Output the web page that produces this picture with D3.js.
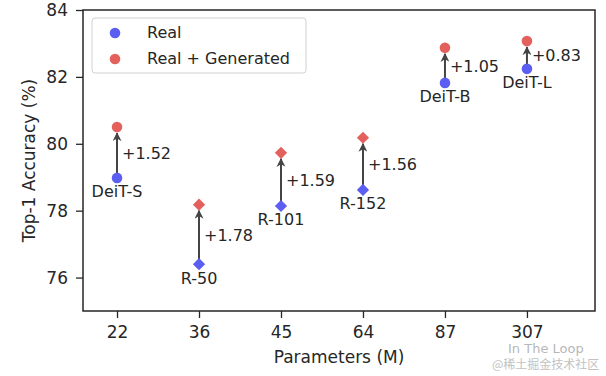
<!DOCTYPE html>
<html>
<head>
<meta charset="utf-8">
<script src="https://cdn.jsdelivr.net/npm/d3@7"></script>
<style>
  body { margin: 0; background: #fff; }
  text { font-family: "DejaVu Sans", sans-serif; fill: #262626; }
</style>
</head>
<body>
<div id="plot"></div>
<script>
// chart data
var models = ["DeiT-S", "R-50", "R-101", "R-152", "DeiT-B", "DeiT-L"];
var params = ["22", "36", "45", "64", "87", "307"];
var acc_real = [78.98, 76.40, 78.14, 78.62, 81.82, 82.24];
var acc_gen = [80.50, 78.18, 79.73, 80.18, 82.87, 83.07];
var gains = ["+1.52", "+1.78", "+1.59", "+1.56", "+1.05", "+0.83"];
var shapes = ["circle", "diamond", "diamond", "diamond", "circle", "circle"];
var y_ticks = [76, 78, 80, 82, 84];

const blue = "#5b5ef0";
const red = "#e4605c";
const dark = "#262626";

const total_width = 606, total_height = 376;
const margin = {left: 83, top: 10, right: 11, bottom: 65};
var width = total_width - margin.left - margin.right;
var height = total_height - margin.top - margin.bottom;

var svg = d3.select("#plot").append("svg").attr("width", total_width).attr("height", total_height)
  .append("g").attr("transform", "translate(" + margin.left + "," + margin.top + ")");

var x = d3.scaleLinear().domain([-0.415, 5.83]).range([0, width]);
var y = d3.scaleLinear().domain([75, 84]).range([height, 0]);

// axes
var xAxis = d3.axisBottom(x).tickValues(d3.range(params.length)).tickFormat(function(i) {return params[i]}).tickSize(7).tickPadding(8);
var gx = svg.append("g").attr("transform", "translate(0," + height + ")").call(xAxis);
var yAxis = d3.axisLeft(y).tickValues(y_ticks).tickSize(7).tickPadding(8);
var gy = svg.append("g").call(yAxis);
[gx, gy].forEach(function(g) {
  g.select(".domain").remove();
  g.selectAll(".tick line").attr("stroke", dark).attr("stroke-width", 1.3);
  g.selectAll(".tick text").style("font-size", "17px").attr("fill", dark);
});

svg.append("rect").attr("width", width).attr("height", height)
  .attr("fill", "none").attr("stroke", dark).attr("stroke-width", 1.5);

svg.append("text").attr("text-anchor", "middle").attr("x", 256).attr("y", height + 52)
  .style("font-size", "17px").text("Parameters (M)");
svg.append("text").attr("text-anchor", "middle")
  .attr("transform", "translate(" + (-48) + "," + (height / 2) + ") rotate(-90)")
  .style("font-size", "17px").text("Top-1 Accuracy (%)");

// arrow marker
svg.append("defs").append("marker").attr("id", "arrow")
  .attr("viewBox", "0 0 10 10").attr("refX", 9).attr("refY", 5)
  .attr("markerWidth", 4.5).attr("markerHeight", 4.5).attr("orient", "auto")
  .append("path").attr("d", "M0,0 L10,5 L0,10 L3,5 Z").attr("fill", "#444");

var idx = d3.range(models.length);

svg.selectAll(".gain-line").data(idx).enter().append("line")
  .attr("x1", function(i) {return x(i)}).attr("x2", function(i) {return x(i)})
  .attr("y1", function(i) {return y(acc_real[i])})
  .attr("y2", function(i) {return y(acc_gen[i]) + 6})
  .attr("stroke", "#444").attr("stroke-width", 2)
  .attr("marker-end", "url(#arrow)");

function drawMarker(g, i, val, color) {
  if (shapes[i] == "circle") {
    g.append("circle").attr("cx", x(i)).attr("cy", y(val)).attr("r", 5.3).attr("fill", color);
  } else {
    g.append("path").attr("d", d3.symbol().type(d3.symbolDiamond2).size(95)())
      .attr("transform", "translate(" + x(i) + "," + y(val) + ")")
      .attr("fill", color);
  }
}

var marks = svg.append("g");
idx.forEach(function(i) {
  drawMarker(marks, i, acc_real[i], blue);
  drawMarker(marks, i, acc_gen[i], red);
});

svg.selectAll(".gain").data(idx).enter().append("text")
  .attr("x", function(i) {return x(i) + 5})
  .attr("y", function(i) {return (y(acc_real[i]) + y(acc_gen[i])) / 2 + 2})
  .attr("dominant-baseline", "middle").style("font-size", "16px")
  .text(function(i) {return gains[i]});

svg.selectAll(".model").data(idx).enter().append("text")
  .attr("x", function(i) {return x(i)})
  .attr("y", function(i) {return y(acc_real[i]) + 15})
  .attr("text-anchor", "middle").attr("dominant-baseline", "middle").style("font-size", "16px")
  .text(function(i) {return models[i]});

// legend
var legend = svg.append("g").attr("transform", "translate(9,8)");
legend.append("rect").attr("width", 214).attr("height", 55).attr("rx", 3)
  .attr("fill", "#fff").attr("stroke", "#d0d0d0").attr("stroke-width", 1);
[["Real", blue], ["Real + Generated", red]].forEach(function(d, k) {
  legend.append("circle").attr("cx", 23).attr("cy", 15 + k * 26).attr("r", 5.3).attr("fill", d[1]);
  legend.append("text").attr("x", 55).attr("y", 15 + k * 26).attr("dominant-baseline", "middle")
    .style("font-size", "16px").text(d[0]);
});

// watermark
var wm = d3.select("svg").append("g").attr("opacity", 0.6);
wm.append("text").attr("x", 508).attr("y", 353).style("font-size", "13px").style("fill", "#888").text("In The Loop");
wm.append("text").attr("x", 492).attr("y", 369).style("font-family", "'Noto Sans CJK SC', sans-serif")
  .style("font-size", "12px").style("fill", "#999").text("@稀土掘金技术社区");
</script>
</body>
</html>
